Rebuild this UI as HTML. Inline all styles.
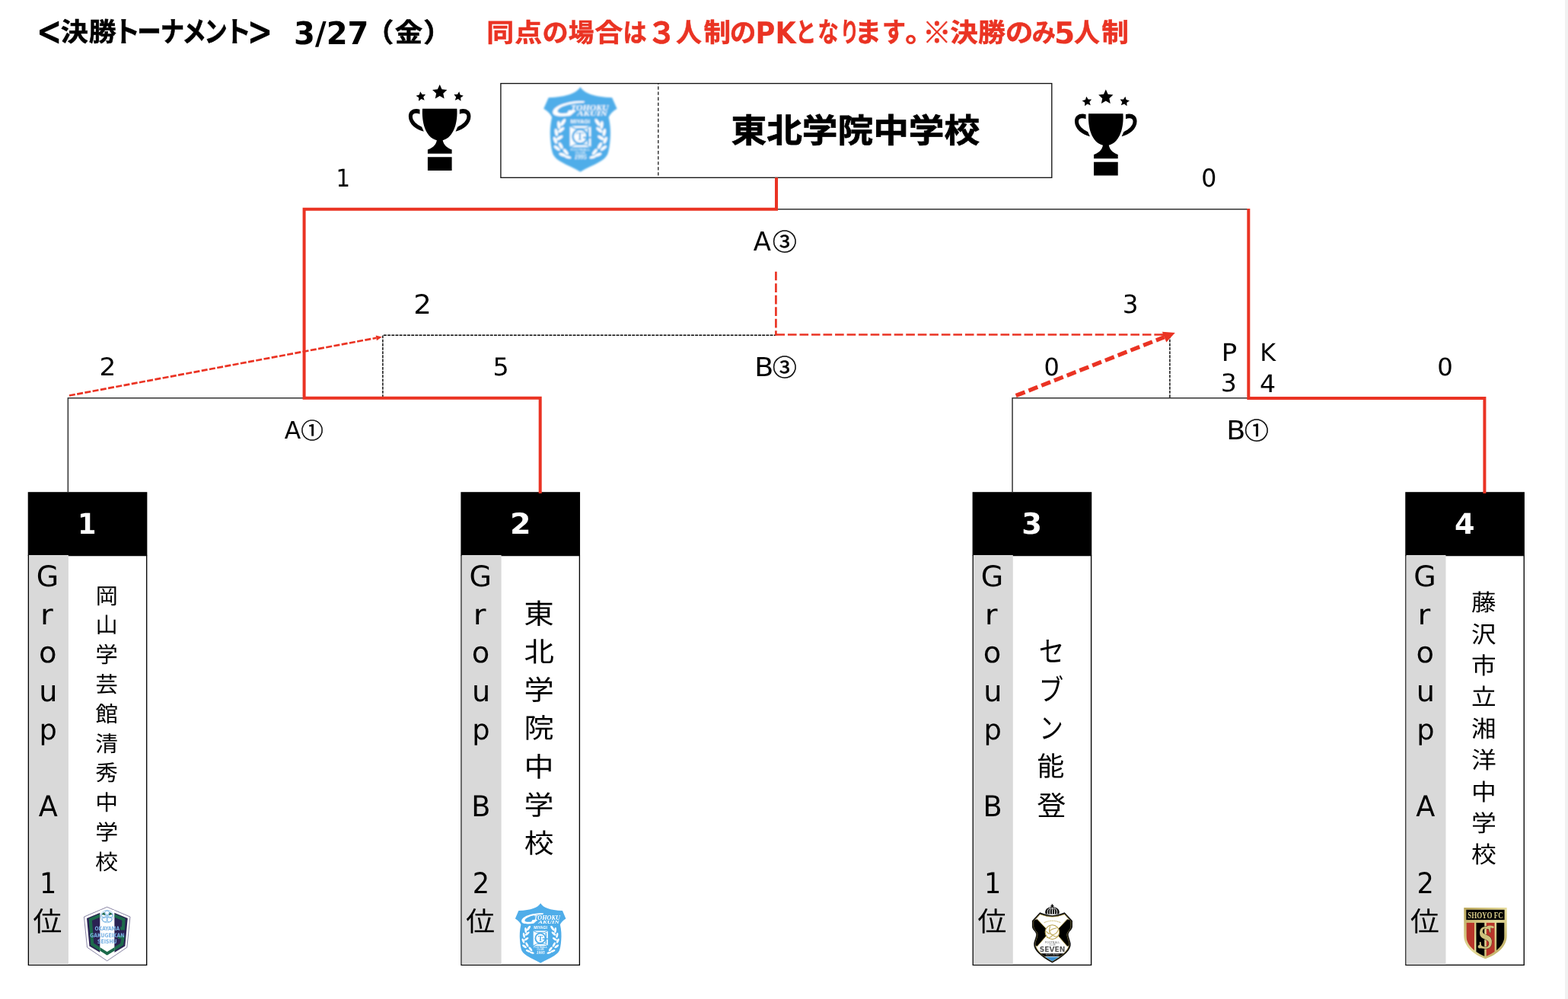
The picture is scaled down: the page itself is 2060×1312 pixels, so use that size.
<!DOCTYPE html>
<html lang="ja"><head><meta charset="utf-8"><title>決勝トーナメント</title>
<style>
html,body{margin:0;padding:0;background:#fff}
body{width:2060px;height:1312px;position:relative;overflow:hidden;will-change:transform;font-family:"Liberation Sans","Noto Sans CJK JP",sans-serif}
.t{position:absolute;left:0;top:0;white-space:pre;margin:0;padding:0;transform-origin:0 0;text-rendering:geometricPrecision}
svg{position:absolute;left:0;top:0;overflow:visible}
.v{position:absolute;text-align:center;white-space:pre;margin:0;padding:0}
.v span{display:block}
</style></head><body>

<svg width="2060" height="1312" viewBox="0 0 2060 1312">
<g transform="translate(36.7 0)"><rect x="0.66" y="729.6" width="155.33" height="537.8" fill="#fff" stroke="#000" stroke-width="1.33"/><rect x="0" y="646.2" width="156.65" height="83.4" fill="#000"/><rect x="1.3" y="729" width="51.9" height="537.75" fill="#D9D9D9"/></g>
<g transform="translate(605.4 0)"><rect x="0.66" y="729.6" width="155.33" height="537.8" fill="#fff" stroke="#000" stroke-width="1.33"/><rect x="0" y="646.2" width="156.65" height="83.4" fill="#000"/><rect x="1.3" y="729" width="51.9" height="537.75" fill="#D9D9D9"/></g>
<g transform="translate(1277.6 0)"><rect x="0.66" y="729.6" width="155.33" height="537.8" fill="#fff" stroke="#000" stroke-width="1.33"/><rect x="0" y="646.2" width="156.65" height="83.4" fill="#000"/><rect x="1.3" y="729" width="51.9" height="537.75" fill="#D9D9D9"/></g>
<g transform="translate(1846.25 0)"><rect x="0.66" y="729.6" width="155.33" height="537.8" fill="#fff" stroke="#000" stroke-width="1.33"/><rect x="0" y="646.2" width="156.65" height="83.4" fill="#000"/><rect x="1.3" y="729" width="51.9" height="537.75" fill="#D9D9D9"/></g>
</svg>
<div style="position:absolute;left:2056px;top:0;width:4px;height:1312px;background:#f1f1f1"></div>
<svg width="2060" height="1312" viewBox="0 0 2060 1312" fill="none">
<!-- winner box -->
<rect x="657.9" y="109.6" width="723.9" height="123.7" stroke="#111" stroke-width="1.33" fill="#fff"/>
<line x1="864.8" y1="110" x2="864.8" y2="233" stroke="#1a1a1a" stroke-width="1.3" stroke-dasharray="4.3 2.75" stroke-dashoffset="3.55"/>
<!-- thin black bracket lines -->
<g stroke="#333" stroke-width="1.5" fill="none">
<path d="M1020 274.7H1640.3"/>
<path d="M89.35 646V522.8H399.6"/>
<path d="M1330.05 646V522.8H1640.3"/>
</g>
<!-- black dashed -->
<g stroke="#000" stroke-width="1.4" stroke-dasharray="3.85 1.33" fill="none">
<path d="M502.9 522V440.2H1019"/>
<path d="M1536.9 522V440.2"/>
</g>
<!-- red solid -->
<g stroke="#EA3323" stroke-width="4" fill="none" stroke-linejoin="miter">
<path d="M1020 233.3V274.7H399.6V522.8H709.7V648"/>
<path d="M1640.3 274V522.9H1950.4V648"/>
</g>
<!-- red dashed elbow -->
<path d="M1019.4 356.7V440.83" stroke="#EA3323" stroke-width="2.67" stroke-dasharray="11.67 3.86" fill="none"/>
<path d="M1019.4 439.5H1528.5" stroke="#EA3323" stroke-width="2.67" stroke-dasharray="11.67 3.86" fill="none"/>
<path d="M1535.5 439.5L1527.8 436.1V442.9z" fill="#EA3323"/>
<!-- red thin dashed diagonal arrow -->
<path d="M90.95 519.5L494.4 443.8" stroke="#EA3323" stroke-width="2.67" stroke-dasharray="8 2.4" fill="none"/>
<path d="M501.9 442.4L493.7 440.48L494.96 447.16z" fill="#EA3323"/>
<!-- red thick dashed diagonal arrow -->
<path d="M1334.7 519.6L1529.6 442.7" stroke="#EA3323" stroke-width="5.33" stroke-dasharray="12.7 5.3" fill="none"/>
<path d="M1543.8 437.1L1526.9 435.8L1532.3 449.6z" fill="#EA3323"/>
</svg>

<svg width="2060" height="1312" viewBox="0 0 2060 1312">
<defs><g id="trophy" fill="#000"><path d="M541.0 104.0L567.5 162.6L631.4 169.6L583.8 212.9L596.8 275.9L541.0 244.0L485.2 275.9L498.2 212.9L450.6 169.6L514.5 162.6ZM301.4 190.6L324.1 225.5L365.7 224.8L339.5 257.2L353.1 296.6L314.2 281.7L280.9 306.7L283.0 265.2L248.9 241.2L289.2 230.4ZM780.6 190.6L792.8 230.4L833.1 241.2L799.0 265.2L801.1 306.7L767.8 281.7L728.9 296.6L742.5 257.2L716.3 224.8L757.9 225.5ZM328 400H753C765 560 720 750 578 790C590 850 640 890 690 905V955H393V905C445 890 495 850 505 790C360 750 318 560 328 400ZM393 995H690V1163H393ZM295 410C225 390 158 420 158 495C158 590 250 660 345 682L320 625C255 595 205 550 205 495C205 455 250 450 295 467Z"/><path transform="translate(1081 0) scale(-1 1)" d="M295 410C225 390 158 420 158 495C158 590 250 660 345 682L320 625C255 595 205 550 205 495C205 455 250 450 295 467Z"/></g></defs>
<use href="#trophy" transform="translate(520 100) scale(0.10667)"/>
<use href="#trophy" transform="translate(1395.1 106.5) scale(0.10667)"/>
</svg>
<svg width="2060" height="1312" viewBox="0 0 2060 1312">
<defs><filter id="bl1" x="-10%" y="-10%" width="120%" height="120%"><feGaussianBlur stdDeviation="0.35"/></filter>
<filter id="bl2" x="-10%" y="-10%" width="120%" height="120%"><feGaussianBlur stdDeviation="0.8"/></filter>
<g id="lg1">
<path d="M665 278L1062 447L1008 973L665 1206L322 973L268 447Z" fill="#fff" stroke="#3b3568" stroke-width="8"/>
<path d="M545 378L315 472L360 952L545 1062Z" fill="#2a2152"/>
<path d="M790 378L1020 472L975 952L790 1062Z" fill="#2a2152"/>
<path d="M545 425L378 494L410 918L665 1080L920 918L940 795H850" fill="none" stroke="#1f6a4b" stroke-width="54" stroke-linejoin="miter"/>
<path d="M790 425L952 494L942 648H895" fill="none" stroke="#1f6a4b" stroke-width="54" stroke-linejoin="miter"/>
<rect x="545" y="330" width="245" height="760" fill="#fff"/>
<path d="M545 975L665 1050L790 975V1036L665 1112L545 1036Z" fill="#1f6a4b"/>
<path d="M545 1036L665 1112L790 1036V1100L665 1180L545 1100Z" fill="#fff"/>
<g fill="none" stroke="#6faee0" stroke-width="12">
<circle cx="665" cy="385" r="42"/><circle cx="615" cy="425" r="42"/><circle cx="715" cy="425" r="42"/>
<circle cx="630" cy="490" r="46"/><circle cx="700" cy="490" r="46"/>
<circle cx="665" cy="440" r="108" stroke-width="8"/>
</g>
<path d="M570 405l45 -38l22 55zM693 422l22 -55l45 38z" fill="#1f6a4b"/>
<g fill="#7ab2e4" font-family="'DejaVu Sans','Liberation Sans',sans-serif" font-weight="700" text-anchor="middle">
<text x="667" y="680" font-size="98" textLength="430" lengthAdjust="spacingAndGlyphs">OKAYAMA</text>
<text x="667" y="795" font-size="98" textLength="590" lengthAdjust="spacingAndGlyphs">GAKUGEIKAN</text>
<text x="667" y="900" font-size="98" textLength="335" lengthAdjust="spacingAndGlyphs">SEISHU</text>
</g>
</g>

<g id="lg2">
<path d="M657.8 214C610 290 500 335 279.7 342.7L221.2 477.8C270 505 305 545 320.2 581.3C298 680 295 770 302.2 851.3C308 930 318 990 333.7 1031.4C360 1080 400 1105 428.3 1121.4C500 1165 590 1200 657.8 1244C725.6 1200 815.6 1165 887.3 1121.4C915.6 1105 955.6 1080 981.9 1031.4C997.6 990 1007.6 930 1013.4 851.3C1020.6 770 1017.6 680 995.4 581.3C1010.6 545 1045.6 505 1094.4 477.8L1035.9 342.7C815.6 335 705.6 290 657.8 214Z" fill="#50ade9"/>
<g transform="translate(0 -24)">
<g fill="#fff" font-family="'Liberation Serif','DejaVu Serif',serif" font-style="italic" font-weight="700">
<text x="545" y="520" font-size="98" textLength="450" lengthAdjust="spacingAndGlyphs">TOHOKU</text>
<text x="620" y="588" font-size="78" textLength="360" lengthAdjust="spacingAndGlyphs">AKUIN</text>
<text x="588" y="1112" font-size="76" textLength="145" lengthAdjust="spacingAndGlyphs">1995</text>
</g>
<path d="M710 412C585 395 345 445 330 540C322 595 420 605 540 585L610 522H520L500 555C440 565 378 560 388 525C403 470 570 428 700 430Z" fill="#fff"/>
<g fill="#fff" font-family="'Liberation Sans',sans-serif" font-weight="700" text-anchor="middle">
<text x="657" y="680" font-size="58" textLength="232" lengthAdjust="spacingAndGlyphs">MIYAGI</text>
<text x="657" y="1012" font-size="38" textLength="232" lengthAdjust="spacingAndGlyphs" fill-opacity="0.8">FOOTBALL</text>
<text x="657" y="1046" font-size="38" textLength="120" lengthAdjust="spacingAndGlyphs" fill-opacity="0.8">CLUB</text>
</g>
<rect x="534" y="712" width="250" height="256" fill="#fff"/>
<path d="M534 712L596 742H722L784 712M534 968L596 938H722L784 968" stroke="#50ade9" stroke-width="13" fill="none"/>
<circle cx="655" cy="840" r="86" fill="#fff" stroke="#50ade9" stroke-width="24"/>
<path d="M752 745V935M690 852H784" stroke="#50ade9" stroke-width="20" fill="none"/>
<text x="655" y="886" font-family="'Liberation Serif',serif" font-weight="700" font-size="128" text-anchor="middle" fill="#50ade9">T</text>
<g fill="#fff">
<g id="lf2">
<ellipse cx="452" cy="668" rx="19" ry="50" transform="rotate(35 452 668)"/>
<ellipse cx="402" cy="700" rx="18" ry="48" transform="rotate(-5 402 700)"/>
<ellipse cx="430" cy="760" rx="18" ry="46" transform="rotate(50 430 760)"/>
<ellipse cx="372" cy="790" rx="18" ry="46" transform="rotate(-10 372 790)"/>
<ellipse cx="412" cy="855" rx="18" ry="44" transform="rotate(58 412 855)"/>
<ellipse cx="360" cy="885" rx="18" ry="44" transform="rotate(-22 360 885)"/>
<ellipse cx="425" cy="950" rx="18" ry="44" transform="rotate(-28 425 950)"/>
<ellipse cx="380" cy="980" rx="18" ry="44" transform="rotate(-52 380 980)"/>
<ellipse cx="485" cy="1025" rx="18" ry="44" transform="rotate(-38 485 1025)"/>
<ellipse cx="445" cy="1060" rx="18" ry="44" transform="rotate(-68 445 1060)"/>
<ellipse cx="510" cy="1090" rx="16" ry="40" transform="rotate(-75 510 1090)"/>
</g>
<use href="#lf2" transform="translate(1315 0) scale(-1 1)"/>
</g>
</g>
</g>

<g id="lg3">
<clipPath id="cp3"><path d="M478 402C550 428 620 445 688 447C756 445 826 428 898 402L1008 522V612C1000 670 948 700 940 740C933 790 972 850 978 912C980 1010 880 1105 688 1212C496 1105 396 1010 398 912C404 850 443 790 436 740C428 700 376 670 368 612V522Z"/></clipPath>
<!-- crown -->
<path d="M572 400C548 330 600 278 688 276C776 278 828 330 804 400Z" fill="#111"/>
<g stroke="#fff" stroke-width="13" fill="none"><path d="M612 398C596 345 618 305 656 292"/><path d="M650 400C640 350 650 310 676 290"/><path d="M688 400V288"/><path d="M726 400C736 350 726 310 700 290"/><path d="M764 398C780 345 758 305 720 292"/></g>
<path d="M676 228h24v20h14v20h-14v16h-24v-16h-14v-20h14z" fill="#111"/>
<!-- shield -->
<path d="M475 370C550 398 620 418 688 422C756 418 826 398 901 370L1036 514V618C1030 670 978 700 967 740C960 790 1000 850 1006 914C1010 1020 900 1120 688 1241C476 1120 366 1020 370 914C376 850 416 790 409 740C398 700 346 670 340 618V514Z" fill="#0c0c0c"/>
<path d="M478 402C550 428 620 445 688 447C756 445 826 428 898 402L1008 522V612C1000 670 948 700 940 740C933 790 972 850 978 912C980 1010 880 1105 688 1212C496 1105 396 1010 398 912C404 850 443 790 436 740C428 700 376 670 368 612V522Z" fill="#fff" stroke="#a8923f" stroke-width="11"/>
<g clip-path="url(#cp3)">
<path d="M350 505L430 490L640 712L430 955L350 930Z" fill="#050505"/>
<path d="M1026 505L946 490L736 712L946 955L1026 930Z" fill="#050505"/>
<path d="M430 490L640 712L430 955M946 490L736 712L946 955" stroke="#b59d45" stroke-width="11" fill="none"/>
<rect x="470" y="1078" width="440" height="50" fill="#0a0a0a"/>
<path d="M510 1138H866L688 1232Z" fill="#3e90d2"/>
</g>
<circle cx="688" cy="710" r="122" fill="#fff" stroke="#b59d45" stroke-width="14"/>
<g stroke="#c2ad5c" stroke-width="15" fill="none" stroke-linecap="round"><path d="M650 615C625 680 640 735 692 762"/><path d="M692 762C745 745 782 705 792 668"/><path d="M692 762C680 790 640 812 598 806"/><path d="M645 690C672 662 720 648 762 640"/><path d="M705 770C742 795 770 792 795 772"/><path d="M588 700C600 720 620 735 640 740"/></g>
<path d="M548 548C630 505 750 505 832 548" stroke="#c9b66a" stroke-width="17" stroke-dasharray="13 10" fill="none"/>
<text x="690" y="1048" font-family="'DejaVu Sans','Liberation Sans',sans-serif" font-weight="700" font-size="112" text-anchor="middle" textLength="440" lengthAdjust="spacingAndGlyphs" fill="#2a2a2a" fill-opacity="0.88">SEVEN</text>
<path d="M470 985H910M470 1010H910M470 1035H910" stroke="#fff" stroke-opacity="0.45" stroke-width="7"/>
<text x="690" y="905" font-family="'Liberation Sans',sans-serif" font-weight="700" font-size="40" text-anchor="middle" textLength="260" lengthAdjust="spacingAndGlyphs" fill="#9a9a9a">FOOTBALL</text>
<text x="690" y="940" font-family="'Liberation Sans',sans-serif" font-weight="700" font-size="36" text-anchor="middle" textLength="110" lengthAdjust="spacingAndGlyphs" fill="#9a9a9a">CLUB</text>
<text x="690" y="1118" font-family="'Liberation Sans',sans-serif" font-weight="700" font-size="38" text-anchor="middle" textLength="230" lengthAdjust="spacingAndGlyphs" fill="#8f8f8f">NOTO JAPAN</text>
</g>

<g id="lg4">
<linearGradient id="gd4" x1="0" y1="0" x2="1" y2="1"><stop offset="0" stop-color="#b9a55a"/><stop offset="0.5" stop-color="#e6dc9c"/><stop offset="1" stop-color="#b3a052"/></linearGradient>
<clipPath id="cp4"><path d="M345 545H1005V770C1005 930 860 1060 675 1130C490 1060 345 930 345 770Z"/></clipPath>
<path d="M305 290H1045V775C1045 950 890 1095 675 1172C460 1095 305 950 305 775Z" fill="url(#gd4)"/>
<rect x="345" y="325" width="660" height="175" fill="#050505"/>
<g clip-path="url(#cp4)">
<rect x="345" y="545" width="140" height="600" fill="#b8362a"/>
<rect x="517" y="545" width="142" height="600" fill="#050505"/>
<rect x="692" y="545" width="142" height="600" fill="#b8362a"/>
<rect x="867" y="545" width="140" height="600" fill="#050505"/>
</g>
<text x="675" y="470" font-family="'Liberation Serif','DejaVu Serif',serif" font-weight="700" font-size="150" text-anchor="middle" textLength="610" lengthAdjust="spacingAndGlyphs" fill="#d8cc88">SHOYO FC</text>
<text x="680" y="1000" font-family="'Liberation Serif','DejaVu Serif',serif" font-weight="700" font-size="590" text-anchor="middle" textLength="255" lengthAdjust="spacingAndGlyphs" fill="#cfc27c" stroke="#050505" stroke-width="10" paint-order="stroke">S</text>
<path d="M690 640C735 600 780 615 805 625" stroke="#cfc27c" stroke-width="36" fill="none" stroke-linecap="round"/>
<circle cx="578" cy="962" r="30" fill="#cfc27c"/>
</g>

</defs>
<g filter="url(#bl1)"><use href="#lg1" transform="translate(90 1170) scale(0.07622)"/></g>
<g filter="url(#bl1)"><use href="#lg2" transform="translate(660 1170) scale(0.07622)"/></g>
<g filter="url(#bl1)"><use href="#lg3" transform="translate(1330 1170) scale(0.07622)"/></g>
<g filter="url(#bl1)"><use href="#lg4" transform="translate(1900 1170) scale(0.07622)"/></g>
<g filter="url(#bl2)"><use href="#lg2" transform="translate(689.82 91.04) scale(0.11033 0.10823)"/></g>
</svg>
<div class="t" style="font:400 37.3px/55.95px 'DejaVu Sans','Liberation Sans','Noto Sans CJK JP',sans-serif;width:80px;text-align:center;color:#000;transform:matrix(1.0198,0,0,1.0088,21.68,729.84)">G</div>
<div class="t" style="font:400 37.3px/55.95px 'DejaVu Sans','Liberation Sans','Noto Sans CJK JP',sans-serif;width:80px;text-align:center;color:#000;transform:matrix(1.0917,0,0,0.9880,17.67,780.38)">r</div>
<div class="t" style="font:400 37.3px/55.95px 'DejaVu Sans','Liberation Sans','Noto Sans CJK JP',sans-serif;width:80px;text-align:center;color:#000;transform:matrix(1.0324,0,0,1.0118,21.45,829.52)">o</div>
<div class="t" style="font:400 37.3px/55.95px 'DejaVu Sans','Liberation Sans','Noto Sans CJK JP',sans-serif;width:80px;text-align:center;color:#000;transform:matrix(1.0261,0,0,1.0361,22.33,879.74)">u</div>
<div class="t" style="font:400 37.3px/55.95px 'DejaVu Sans','Liberation Sans','Noto Sans CJK JP',sans-serif;width:80px;text-align:center;color:#000;transform:matrix(0.9863,0,0,0.9912,23.83,930.87)">p</div>
<div class="t" style="font:400 37.3px/55.95px 'DejaVu Sans','Liberation Sans','Noto Sans CJK JP',sans-serif;width:80px;text-align:center;color:#000;transform:matrix(0.9820,0,0,1.0110,23.89,1031.61)">A</div>
<div class="t" style="font:400 37.3px/55.95px 'DejaVu Sans','Liberation Sans','Noto Sans CJK JP',sans-serif;width:80px;text-align:center;color:#000;transform:matrix(0.9415,0,0,1.0092,25.54,1133.13)">1</div>
<div class="t" style="font:400 37.3px/55.95px 'Noto Sans CJK JP','Liberation Sans',sans-serif;width:80px;text-align:center;color:#000;transform:matrix(1.0229,0,0,0.9632,21.44,1181.53)">位</div>
<div class="t" style="font:400 37.3px/55.95px 'DejaVu Sans','Liberation Sans','Noto Sans CJK JP',sans-serif;width:80px;text-align:center;color:#000;transform:matrix(1.0198,0,0,1.0088,590.38,729.84)">G</div>
<div class="t" style="font:400 37.3px/55.95px 'DejaVu Sans','Liberation Sans','Noto Sans CJK JP',sans-serif;width:80px;text-align:center;color:#000;transform:matrix(1.0917,0,0,0.9880,586.37,780.38)">r</div>
<div class="t" style="font:400 37.3px/55.95px 'DejaVu Sans','Liberation Sans','Noto Sans CJK JP',sans-serif;width:80px;text-align:center;color:#000;transform:matrix(1.0324,0,0,1.0118,590.15,829.52)">o</div>
<div class="t" style="font:400 37.3px/55.95px 'DejaVu Sans','Liberation Sans','Noto Sans CJK JP',sans-serif;width:80px;text-align:center;color:#000;transform:matrix(1.0261,0,0,1.0361,591.03,879.74)">u</div>
<div class="t" style="font:400 37.3px/55.95px 'DejaVu Sans','Liberation Sans','Noto Sans CJK JP',sans-serif;width:80px;text-align:center;color:#000;transform:matrix(0.9863,0,0,0.9912,592.53,930.87)">p</div>
<div class="t" style="font:400 37.3px/55.95px 'DejaVu Sans','Liberation Sans','Noto Sans CJK JP',sans-serif;width:80px;text-align:center;color:#000;transform:matrix(0.9820,0,0,1.0110,592.59,1031.61)">B</div>
<div class="t" style="font:400 37.3px/55.95px 'DejaVu Sans','Liberation Sans','Noto Sans CJK JP',sans-serif;width:80px;text-align:center;color:#000;transform:matrix(0.9415,0,0,1.0092,594.24,1133.13)">2</div>
<div class="t" style="font:400 37.3px/55.95px 'Noto Sans CJK JP','Liberation Sans',sans-serif;width:80px;text-align:center;color:#000;transform:matrix(1.0229,0,0,0.9632,590.14,1181.53)">位</div>
<div class="t" style="font:400 37.3px/55.95px 'DejaVu Sans','Liberation Sans','Noto Sans CJK JP',sans-serif;width:80px;text-align:center;color:#000;transform:matrix(1.0198,0,0,1.0088,1262.58,729.84)">G</div>
<div class="t" style="font:400 37.3px/55.95px 'DejaVu Sans','Liberation Sans','Noto Sans CJK JP',sans-serif;width:80px;text-align:center;color:#000;transform:matrix(1.0917,0,0,0.9880,1258.57,780.38)">r</div>
<div class="t" style="font:400 37.3px/55.95px 'DejaVu Sans','Liberation Sans','Noto Sans CJK JP',sans-serif;width:80px;text-align:center;color:#000;transform:matrix(1.0324,0,0,1.0118,1262.35,829.52)">o</div>
<div class="t" style="font:400 37.3px/55.95px 'DejaVu Sans','Liberation Sans','Noto Sans CJK JP',sans-serif;width:80px;text-align:center;color:#000;transform:matrix(1.0261,0,0,1.0361,1263.23,879.74)">u</div>
<div class="t" style="font:400 37.3px/55.95px 'DejaVu Sans','Liberation Sans','Noto Sans CJK JP',sans-serif;width:80px;text-align:center;color:#000;transform:matrix(0.9863,0,0,0.9912,1264.73,930.87)">p</div>
<div class="t" style="font:400 37.3px/55.95px 'DejaVu Sans','Liberation Sans','Noto Sans CJK JP',sans-serif;width:80px;text-align:center;color:#000;transform:matrix(0.9820,0,0,1.0110,1264.79,1031.61)">B</div>
<div class="t" style="font:400 37.3px/55.95px 'DejaVu Sans','Liberation Sans','Noto Sans CJK JP',sans-serif;width:80px;text-align:center;color:#000;transform:matrix(0.9415,0,0,1.0092,1266.44,1133.13)">1</div>
<div class="t" style="font:400 37.3px/55.95px 'Noto Sans CJK JP','Liberation Sans',sans-serif;width:80px;text-align:center;color:#000;transform:matrix(1.0229,0,0,0.9632,1262.34,1181.53)">位</div>
<div class="t" style="font:400 37.3px/55.95px 'DejaVu Sans','Liberation Sans','Noto Sans CJK JP',sans-serif;width:80px;text-align:center;color:#000;transform:matrix(1.0198,0,0,1.0088,1831.23,729.84)">G</div>
<div class="t" style="font:400 37.3px/55.95px 'DejaVu Sans','Liberation Sans','Noto Sans CJK JP',sans-serif;width:80px;text-align:center;color:#000;transform:matrix(1.0917,0,0,0.9880,1827.22,780.38)">r</div>
<div class="t" style="font:400 37.3px/55.95px 'DejaVu Sans','Liberation Sans','Noto Sans CJK JP',sans-serif;width:80px;text-align:center;color:#000;transform:matrix(1.0324,0,0,1.0118,1831.00,829.52)">o</div>
<div class="t" style="font:400 37.3px/55.95px 'DejaVu Sans','Liberation Sans','Noto Sans CJK JP',sans-serif;width:80px;text-align:center;color:#000;transform:matrix(1.0261,0,0,1.0361,1831.88,879.74)">u</div>
<div class="t" style="font:400 37.3px/55.95px 'DejaVu Sans','Liberation Sans','Noto Sans CJK JP',sans-serif;width:80px;text-align:center;color:#000;transform:matrix(0.9863,0,0,0.9912,1833.38,930.87)">p</div>
<div class="t" style="font:400 37.3px/55.95px 'DejaVu Sans','Liberation Sans','Noto Sans CJK JP',sans-serif;width:80px;text-align:center;color:#000;transform:matrix(0.9820,0,0,1.0110,1833.44,1031.61)">A</div>
<div class="t" style="font:400 37.3px/55.95px 'DejaVu Sans','Liberation Sans','Noto Sans CJK JP',sans-serif;width:80px;text-align:center;color:#000;transform:matrix(0.9415,0,0,1.0092,1835.09,1133.13)">2</div>
<div class="t" style="font:400 37.3px/55.95px 'Noto Sans CJK JP','Liberation Sans',sans-serif;width:80px;text-align:center;color:#000;transform:matrix(1.0229,0,0,0.9632,1830.99,1181.53)">位</div>
<div class="t" style="font:400 27.7px/41.55px 'Noto Sans CJK JP','Liberation Sans',sans-serif;width:80px;text-align:center;color:#000;transform:matrix(1.0478,0,0,1.0417,98.24,759.22)">岡</div>
<div class="t" style="font:400 27.7px/41.55px 'Noto Sans CJK JP','Liberation Sans',sans-serif;width:80px;text-align:center;color:#000;transform:matrix(1.0522,0,0,1.0388,98.06,798.11)">山</div>
<div class="t" style="font:400 27.7px/41.55px 'Noto Sans CJK JP','Liberation Sans',sans-serif;width:80px;text-align:center;color:#000;transform:matrix(1.0566,0,0,1.0359,97.88,836.99)">学</div>
<div class="t" style="font:400 27.7px/41.55px 'Noto Sans CJK JP','Liberation Sans',sans-serif;width:80px;text-align:center;color:#000;transform:matrix(1.0610,0,0,1.0330,97.70,875.87)">芸</div>
<div class="t" style="font:400 27.7px/41.55px 'Noto Sans CJK JP','Liberation Sans',sans-serif;width:80px;text-align:center;color:#000;transform:matrix(1.0654,0,0,1.0301,97.53,914.75)">館</div>
<div class="t" style="font:400 27.7px/41.55px 'Noto Sans CJK JP','Liberation Sans',sans-serif;width:80px;text-align:center;color:#000;transform:matrix(1.0698,0,0,1.0272,97.35,953.63)">清</div>
<div class="t" style="font:400 27.7px/41.55px 'Noto Sans CJK JP','Liberation Sans',sans-serif;width:80px;text-align:center;color:#000;transform:matrix(1.0742,0,0,1.0243,97.17,992.52)">秀</div>
<div class="t" style="font:400 27.7px/41.55px 'Noto Sans CJK JP','Liberation Sans',sans-serif;width:80px;text-align:center;color:#000;transform:matrix(1.0786,0,0,1.0215,97.00,1031.40)">中</div>
<div class="t" style="font:400 27.7px/41.55px 'Noto Sans CJK JP','Liberation Sans',sans-serif;width:80px;text-align:center;color:#000;transform:matrix(1.0830,0,0,1.0186,96.82,1070.28)">学</div>
<div class="t" style="font:400 27.7px/41.55px 'Noto Sans CJK JP','Liberation Sans',sans-serif;width:80px;text-align:center;color:#000;transform:matrix(1.0874,0,0,1.0157,96.64,1109.16)">校</div>
<div class="t" style="font:400 36.5px/54.75px 'Noto Sans CJK JP','Liberation Sans',sans-serif;width:80px;text-align:center;color:#000;transform:matrix(1.0818,0,0,1.0000,664.81,776.50)">東</div>
<div class="t" style="font:400 36.5px/54.75px 'Noto Sans CJK JP','Liberation Sans',sans-serif;width:80px;text-align:center;color:#000;transform:matrix(1.0789,0,0,0.9938,664.92,827.04)">北</div>
<div class="t" style="font:400 36.5px/54.75px 'Noto Sans CJK JP','Liberation Sans',sans-serif;width:80px;text-align:center;color:#000;transform:matrix(1.0760,0,0,0.9877,665.03,877.59)">学</div>
<div class="t" style="font:400 36.5px/54.75px 'Noto Sans CJK JP','Liberation Sans',sans-serif;width:80px;text-align:center;color:#000;transform:matrix(1.0731,0,0,0.9815,665.14,928.13)">院</div>
<div class="t" style="font:400 36.5px/54.75px 'Noto Sans CJK JP','Liberation Sans',sans-serif;width:80px;text-align:center;color:#000;transform:matrix(1.0702,0,0,0.9753,665.26,978.68)">中</div>
<div class="t" style="font:400 36.5px/54.75px 'Noto Sans CJK JP','Liberation Sans',sans-serif;width:80px;text-align:center;color:#000;transform:matrix(1.0673,0,0,0.9691,665.37,1029.22)">学</div>
<div class="t" style="font:400 36.5px/54.75px 'Noto Sans CJK JP','Liberation Sans',sans-serif;width:80px;text-align:center;color:#000;transform:matrix(1.0644,0,0,0.9630,665.48,1079.77)">校</div>
<div class="t" style="font:400 36.5px/54.75px 'Noto Sans CJK JP','Liberation Sans',sans-serif;width:80px;text-align:center;color:#000;transform:matrix(0.9183,0,0,1.0310,1344.66,825.72)">セ</div>
<div class="t" style="font:400 36.5px/54.75px 'Noto Sans CJK JP','Liberation Sans',sans-serif;width:80px;text-align:center;color:#000;transform:matrix(0.8885,0,0,1.0585,1345.55,875.62)">ブ</div>
<div class="t" style="font:400 36.5px/54.75px 'Noto Sans CJK JP','Liberation Sans',sans-serif;width:80px;text-align:center;color:#000;transform:matrix(0.8561,0,0,1.0400,1346.78,926.44)">ン</div>
<div class="t" style="font:400 36.5px/54.75px 'Noto Sans CJK JP','Liberation Sans',sans-serif;width:80px;text-align:center;color:#000;transform:matrix(0.9807,0,0,0.9731,1341.20,978.45)">能</div>
<div class="t" style="font:400 36.5px/54.75px 'Noto Sans CJK JP','Liberation Sans',sans-serif;width:80px;text-align:center;color:#000;transform:matrix(1.0482,0,0,0.9846,1339.35,1029.28)">登</div>
<div class="t" style="font:400 29.5px/44.25px 'Noto Sans CJK JP','Liberation Sans',sans-serif;width:80px;text-align:center;color:#000;transform:matrix(1.1018,0,0,1.0278,1905.18,767.39)">藤</div>
<div class="t" style="font:400 29.5px/44.25px 'Noto Sans CJK JP','Liberation Sans',sans-serif;width:80px;text-align:center;color:#000;transform:matrix(1.1034,0,0,1.0284,1905.14,808.76)">沢</div>
<div class="t" style="font:400 29.5px/44.25px 'Noto Sans CJK JP','Liberation Sans',sans-serif;width:80px;text-align:center;color:#000;transform:matrix(1.1050,0,0,1.0291,1905.09,850.12)">市</div>
<div class="t" style="font:400 29.5px/44.25px 'Noto Sans CJK JP','Liberation Sans',sans-serif;width:80px;text-align:center;color:#000;transform:matrix(1.1066,0,0,1.0297,1905.05,891.48)">立</div>
<div class="t" style="font:400 29.5px/44.25px 'Noto Sans CJK JP','Liberation Sans',sans-serif;width:80px;text-align:center;color:#000;transform:matrix(1.1082,0,0,1.0304,1905.01,932.84)">湘</div>
<div class="t" style="font:400 29.5px/44.25px 'Noto Sans CJK JP','Liberation Sans',sans-serif;width:80px;text-align:center;color:#000;transform:matrix(1.1098,0,0,1.0311,1904.97,974.21)">洋</div>
<div class="t" style="font:400 29.5px/44.25px 'Noto Sans CJK JP','Liberation Sans',sans-serif;width:80px;text-align:center;color:#000;transform:matrix(1.1114,0,0,1.0317,1904.93,1015.57)">中</div>
<div class="t" style="font:400 29.5px/44.25px 'Noto Sans CJK JP','Liberation Sans',sans-serif;width:80px;text-align:center;color:#000;transform:matrix(1.1130,0,0,1.0324,1904.88,1056.93)">学</div>
<div class="t" style="font:400 29.5px/44.25px 'Noto Sans CJK JP','Liberation Sans',sans-serif;width:80px;text-align:center;color:#000;transform:matrix(1.1145,0,0,1.0330,1904.84,1098.29)">校</div>
<div class="t" style="font:700 38px/57.0px 'DejaVu Sans','Liberation Sans','Noto Sans CJK JP',sans-serif;color:#000;transform:matrix(1.0611,0,0,1.3882,47.86,1.72)">&lt;</div>
<div class="t" style="font:700 38px/57.0px 'DejaVu Sans','Liberation Sans','Noto Sans CJK JP',sans-serif;color:#000;transform:matrix(1.0568,0,0,1.3721,324.77,2.36)">&gt;</div>
<div class="t" style="font:700 38.8px/58.2px 'DejaVu Sans','Liberation Sans','Noto Sans CJK JP',sans-serif;color:#000;transform:matrix(1.0335,0,0,1.0574,386.12,14.55)">3/27</div>
<div class="t" style="font:700 36px/54.0px 'Noto Sans CJK JP','Liberation Sans',sans-serif;-webkit-text-stroke:0.5px currentColor;color:#EA3323;transform:matrix(1.0795,0,0,1.0726,850.04,11.95)">３</div>
<div class="t" style="font:700 38px/57.0px 'DejaVu Sans','Liberation Sans','Noto Sans CJK JP',sans-serif;color:#EA3323;transform:matrix(0.9297,0,0,1.0342,992.55,14.60)">PK</div>
<div class="t" style="font:700 36px/54.0px 'Noto Sans CJK JP','Liberation Sans',sans-serif;-webkit-text-stroke:0.5px currentColor;color:#EA3323;transform:matrix(1.0491,0,0,1.0943,1212.02,11.08)">※</div>
<div class="t" style="font:700 38px/57.0px 'DejaVu Sans','Liberation Sans','Noto Sans CJK JP',sans-serif;color:#EA3323;transform:matrix(1.0313,0,0,1.0372,1384.91,14.56)">5</div>
<div class="t" style="font:700 46.7px/70.05px 'Noto Sans CJK JP','Liberation Sans',sans-serif;-webkit-text-stroke:0.8px currentColor;color:#000;transform:matrix(0.9998,0,0,0.9326,960.45,136.81)">東北学院中学校</div>
<div class="t" style="font:400 32px/48.0px 'DejaVu Sans','Liberation Sans','Noto Sans CJK JP',sans-serif;color:#000;transform:matrix(0.9107,0,0,0.9978,441.61,210.08)">1</div>
<div class="t" style="font:400 32px/48.0px 'DejaVu Sans','Liberation Sans','Noto Sans CJK JP',sans-serif;color:#000;transform:matrix(0.9846,0,0,1.0062,1578.18,209.88)">0</div>
<div class="t" style="font:400 34px/51.0px 'DejaVu Sans','Liberation Sans','Noto Sans CJK JP',sans-serif;color:#000;transform:matrix(1.0921,0,0,1.0297,543.27,374.93)">2</div>
<div class="t" style="font:400 34px/51.0px 'DejaVu Sans','Liberation Sans','Noto Sans CJK JP',sans-serif;color:#000;transform:matrix(0.9576,0,0,0.9709,1474.71,375.56)">3</div>
<div class="t" style="font:400 32px/48.0px 'DejaVu Sans','Liberation Sans','Noto Sans CJK JP',sans-serif;color:#000;transform:matrix(1.0733,0,0,1.0063,130.49,457.78)">2</div>
<div class="t" style="font:400 32px/48.0px 'DejaVu Sans','Liberation Sans','Noto Sans CJK JP',sans-serif;color:#000;transform:matrix(1.0433,0,0,1.0063,647.54,457.98)">5</div>
<div class="t" style="font:400 32px/48.0px 'DejaVu Sans','Liberation Sans','Noto Sans CJK JP',sans-serif;color:#000;transform:matrix(0.9969,0,0,0.9897,1371.41,458.37)">0</div>
<div class="t" style="font:400 32px/48.0px 'DejaVu Sans','Liberation Sans','Noto Sans CJK JP',sans-serif;color:#000;transform:matrix(1.0092,0,0,0.9897,1888.28,458.37)">0</div>
<div class="t" style="font:400 32px/48.0px 'DejaVu Sans','Liberation Sans','Noto Sans CJK JP',sans-serif;color:#000;transform:matrix(1.0600,0,0,0.9935,1604.86,439.03)">P</div>
<div class="t" style="font:400 32px/48.0px 'DejaVu Sans','Liberation Sans','Noto Sans CJK JP',sans-serif;color:#000;transform:matrix(0.9918,0,0,0.9935,1655.18,439.03)">K</div>
<div class="t" style="font:400 32px/48.0px 'DejaVu Sans','Liberation Sans','Noto Sans CJK JP',sans-serif;color:#000;transform:matrix(1.0361,0,0,1.0021,1603.71,478.93)">3</div>
<div class="t" style="font:400 32px/48.0px 'DejaVu Sans','Liberation Sans','Noto Sans CJK JP',sans-serif;color:#000;transform:matrix(1.0353,0,0,0.9935,1655.05,479.83)">4</div>
<div class="t" style="font:400 34.5px/51.75px 'DejaVu Sans','Liberation Sans','Noto Sans CJK JP',sans-serif;color:#000;transform:matrix(0.9826,0,0,0.9940,989.85,292.97)">A</div>
<div class="t" style="font:400 32px/48.0px 'Noto Sans CJK JP','Liberation Sans',sans-serif;-webkit-text-stroke:0.55px currentColor;color:#000;transform:matrix(0.9885,0,0,0.9785,1015.11,292.36)">③</div>
<div class="t" style="font:400 34.5px/51.75px 'DejaVu Sans','Liberation Sans','Noto Sans CJK JP',sans-serif;color:#000;transform:matrix(1.0592,0,0,0.9940,991.19,457.97)">B</div>
<div class="t" style="font:400 32px/48.0px 'Noto Sans CJK JP','Liberation Sans',sans-serif;-webkit-text-stroke:0.55px currentColor;color:#000;transform:matrix(0.9885,0,0,0.9785,1015.11,457.36)">③</div>
<div class="t" style="font:400 32px/48.0px 'DejaVu Sans','Liberation Sans','Noto Sans CJK JP',sans-serif;color:#000;transform:matrix(0.9812,0,0,0.9871,373.75,541.25)">A</div>
<div class="t" style="font:400 30px/45.0px 'Noto Sans CJK JP','Liberation Sans',sans-serif;-webkit-text-stroke:0.55px currentColor;color:#000;transform:matrix(0.9719,0,0,0.9699,395.57,541.79)">①</div>
<div class="t" style="font:400 34.5px/51.75px 'DejaVu Sans','Liberation Sans','Noto Sans CJK JP',sans-serif;color:#000;transform:matrix(1.0592,0,0,0.9940,1611.19,540.97)">B</div>
<div class="t" style="font:400 32px/48.0px 'Noto Sans CJK JP','Liberation Sans',sans-serif;-webkit-text-stroke:0.55px currentColor;color:#000;transform:matrix(0.9885,0,0,0.9785,1635.11,540.36)">①</div>
<div class="t" style="font:700 38px/57.0px 'DejaVu Sans','Liberation Sans','Noto Sans CJK JP',sans-serif;color:#fff;transform:matrix(0.9256,0,0,0.9874,102.02,660.52)">1</div>
<div class="t" style="font:700 38px/57.0px 'DejaVu Sans','Liberation Sans','Noto Sans CJK JP',sans-serif;color:#fff;transform:matrix(1.0420,0,0,0.9947,669.97,660.32)">2</div>
<div class="t" style="font:700 38px/57.0px 'DejaVu Sans','Liberation Sans','Noto Sans CJK JP',sans-serif;color:#fff;transform:matrix(1.0095,0,0,1.0052,1342.18,660.18)">3</div>
<div class="t" style="font:700 38px/57.0px 'DejaVu Sans','Liberation Sans','Noto Sans CJK JP',sans-serif;color:#fff;transform:matrix(1.0043,0,0,0.9874,1911.04,660.52)">4</div>
<div class="t" style="font:700 36px/54.0px 'Noto Sans CJK JP','Liberation Sans',sans-serif;-webkit-text-stroke:0.5px currentColor;color:#000;transform:matrix(1.0043,0,0,0.9518,79.65,14.49)">決</div>
<div class="t" style="font:700 36px/54.0px 'Noto Sans CJK JP','Liberation Sans',sans-serif;-webkit-text-stroke:0.5px currentColor;color:#000;transform:matrix(0.9972,0,0,0.9518,116.70,14.49)">勝</div>
<div class="t" style="font:700 36px/54.0px 'Noto Sans CJK JP','Liberation Sans',sans-serif;font-feature-settings:'palt';-webkit-text-stroke:0.5px currentColor;color:#000;transform:matrix(0.9762,0,0,1.0419,152.71,11.69)">ト</div>
<div class="t" style="font:700 36px/54.0px 'Noto Sans CJK JP','Liberation Sans',sans-serif;font-feature-settings:'palt';-webkit-text-stroke:0.5px currentColor;color:#000;transform:matrix(0.8773,0,0,1.0419,180.71,11.69)">ー</div>
<div class="t" style="font:700 36px/54.0px 'Noto Sans CJK JP','Liberation Sans',sans-serif;font-feature-settings:'palt';-webkit-text-stroke:0.5px currentColor;color:#000;transform:matrix(0.8748,0,0,1.0419,211.45,11.69)">ナ</div>
<div class="t" style="font:700 36px/54.0px 'Noto Sans CJK JP','Liberation Sans',sans-serif;font-feature-settings:'palt';-webkit-text-stroke:0.5px currentColor;color:#000;transform:matrix(0.8874,0,0,1.0419,241.11,11.69)">メ</div>
<div class="t" style="font:700 36px/54.0px 'Noto Sans CJK JP','Liberation Sans',sans-serif;font-feature-settings:'palt';-webkit-text-stroke:0.5px currentColor;color:#000;transform:matrix(0.8463,0,0,1.0419,269.60,11.69)">ン</div>
<div class="t" style="font:700 36px/54.0px 'Noto Sans CJK JP','Liberation Sans',sans-serif;font-feature-settings:'palt';-webkit-text-stroke:0.5px currentColor;color:#000;transform:matrix(0.9762,0,0,1.0419,298.71,11.69)">ト</div>
<div class="t" style="font:700 36px/54.0px 'Noto Sans CJK JP','Liberation Sans',sans-serif;-webkit-text-stroke:0.5px currentColor;color:#000;transform:matrix(1.0311,0,0,0.9600,480.27,14.68)">（</div>
<div class="t" style="font:700 36px/54.0px 'Noto Sans CJK JP','Liberation Sans',sans-serif;-webkit-text-stroke:0.5px currentColor;color:#000;transform:matrix(1.0156,0,0,0.9600,518.69,14.68)">金</div>
<div class="t" style="font:700 36px/54.0px 'Noto Sans CJK JP','Liberation Sans',sans-serif;-webkit-text-stroke:0.5px currentColor;color:#000;transform:matrix(1.0636,0,0,0.9600,555.97,14.68)">）</div>
<div class="t" style="font:700 36px/54.0px 'Noto Sans CJK JP','Liberation Sans',sans-serif;font-feature-settings:'palt';-webkit-text-stroke:0.5px currentColor;color:#EA3323;transform:matrix(0.9984,0,0,0.9478,639.25,14.74)">同</div>
<div class="t" style="font:700 36px/54.0px 'Noto Sans CJK JP','Liberation Sans',sans-serif;font-feature-settings:'palt';-webkit-text-stroke:0.5px currentColor;color:#EA3323;transform:matrix(0.9985,0,0,0.9478,676.25,14.74)">点</div>
<div class="t" style="font:700 36px/54.0px 'Noto Sans CJK JP','Liberation Sans',sans-serif;font-feature-settings:'palt';-webkit-text-stroke:0.5px currentColor;color:#EA3323;transform:matrix(0.9492,0,0,0.9478,712.50,14.74)">の</div>
<div class="t" style="font:700 36px/54.0px 'Noto Sans CJK JP','Liberation Sans',sans-serif;font-feature-settings:'palt';-webkit-text-stroke:0.5px currentColor;color:#EA3323;transform:matrix(0.9353,0,0,0.9478,746.63,14.74)">場</div>
<div class="t" style="font:700 36px/54.0px 'Noto Sans CJK JP','Liberation Sans',sans-serif;font-feature-settings:'palt';-webkit-text-stroke:0.5px currentColor;color:#EA3323;transform:matrix(1.0298,0,0,0.9478,781.19,14.74)">合</div>
<div class="t" style="font:700 36px/54.0px 'Noto Sans CJK JP','Liberation Sans',sans-serif;font-feature-settings:'palt';-webkit-text-stroke:0.5px currentColor;color:#EA3323;transform:matrix(0.8756,0,0,0.9478,818.35,14.74)">は</div>
<div class="t" style="font:700 36px/54.0px 'Noto Sans CJK JP','Liberation Sans',sans-serif;font-feature-settings:'palt';-webkit-text-stroke:0.5px currentColor;color:#EA3323;transform:matrix(0.9418,0,0,0.9618,888.03,14.34)">人</div>
<div class="t" style="font:700 36px/54.0px 'Noto Sans CJK JP','Liberation Sans',sans-serif;font-feature-settings:'palt';-webkit-text-stroke:0.5px currentColor;color:#EA3323;transform:matrix(0.9881,0,0,0.9618,924.41,14.34)">制</div>
<div class="t" style="font:700 36px/54.0px 'Noto Sans CJK JP','Liberation Sans',sans-serif;font-feature-settings:'palt';-webkit-text-stroke:0.5px currentColor;color:#EA3323;transform:matrix(0.9619,0,0,0.9618,958.88,14.34)">の</div>
<div class="t" style="font:700 36px/54.0px 'Noto Sans CJK JP','Liberation Sans',sans-serif;font-feature-settings:'palt';-webkit-text-stroke:0.5px currentColor;color:#EA3323;transform:matrix(0.7515,0,0,0.9985,1046.89,13.17)">と</div>
<div class="t" style="font:700 36px/54.0px 'Noto Sans CJK JP','Liberation Sans',sans-serif;font-feature-settings:'palt';-webkit-text-stroke:0.5px currentColor;color:#EA3323;transform:matrix(0.7569,0,0,0.9985,1074.49,13.17)">な</div>
<div class="t" style="font:700 36px/54.0px 'Noto Sans CJK JP','Liberation Sans',sans-serif;font-feature-settings:'palt';-webkit-text-stroke:0.5px currentColor;color:#EA3323;transform:matrix(0.6882,0,0,0.9985,1106.04,13.17)">り</div>
<div class="t" style="font:700 36px/54.0px 'Noto Sans CJK JP','Liberation Sans',sans-serif;font-feature-settings:'palt';-webkit-text-stroke:0.5px currentColor;color:#EA3323;transform:matrix(0.9846,0,0,0.9985,1124.46,13.17)">ま</div>
<div class="t" style="font:700 36px/54.0px 'Noto Sans CJK JP','Liberation Sans',sans-serif;font-feature-settings:'palt';-webkit-text-stroke:0.5px currentColor;color:#EA3323;transform:matrix(0.8613,0,0,0.9985,1160.64,13.17)">す</div>
<div class="t" style="font:700 36px/54.0px 'Noto Sans CJK JP','Liberation Sans',sans-serif;font-feature-settings:'palt';-webkit-text-stroke:0.5px currentColor;color:#EA3323;transform:matrix(1.0531,0,0,0.9985,1188.98,13.17)">。</div>
<div class="t" style="font:700 36px/54.0px 'Noto Sans CJK JP','Liberation Sans',sans-serif;font-feature-settings:'palt';-webkit-text-stroke:0.5px currentColor;color:#EA3323;transform:matrix(1.0158,0,0,0.9547,1248.34,14.66)">決</div>
<div class="t" style="font:700 36px/54.0px 'Noto Sans CJK JP','Liberation Sans',sans-serif;font-feature-settings:'palt';-webkit-text-stroke:0.5px currentColor;color:#EA3323;transform:matrix(0.9944,0,0,0.9547,1284.90,14.66)">勝</div>
<div class="t" style="font:700 36px/54.0px 'Noto Sans CJK JP','Liberation Sans',sans-serif;font-feature-settings:'palt';-webkit-text-stroke:0.5px currentColor;color:#EA3323;transform:matrix(1.0190,0,0,0.9547,1320.76,14.66)">の</div>
<div class="t" style="font:700 36px/54.0px 'Noto Sans CJK JP','Liberation Sans',sans-serif;font-feature-settings:'palt';-webkit-text-stroke:0.5px currentColor;color:#EA3323;transform:matrix(0.8692,0,0,0.9547,1355.70,14.66)">み</div>
<div class="t" style="font:700 36px/54.0px 'Noto Sans CJK JP','Liberation Sans',sans-serif;-webkit-text-stroke:0.5px currentColor;color:#EA3323;transform:matrix(0.9390,0,0,0.9618,1411.03,14.34)">人</div>
<div class="t" style="font:700 36px/54.0px 'Noto Sans CJK JP','Liberation Sans',sans-serif;-webkit-text-stroke:0.5px currentColor;color:#EA3323;transform:matrix(0.9910,0,0,0.9618,1447.30,14.34)">制</div>
</body></html>
